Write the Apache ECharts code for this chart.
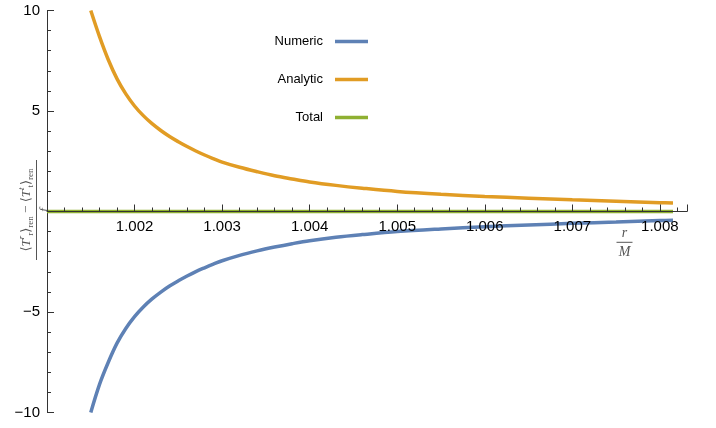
<!DOCTYPE html>
<html>
<head>
<meta charset="utf-8">
<script src="https://cdn.jsdelivr.net/npm/echarts@6/dist/echarts.min.js"></script>
<style>
html,body{margin:0;padding:0;background:#fff;}
#chart{width:716px;height:428px;}
</style>
</head>
<body>
<div id="chart"></div>
<script>
// r/M sample positions
var rValues = [1.0015, 1.0016, 1.0017, 1.0018, 1.0019, 1.0020, 1.0021, 1.0022, 1.0023, 1.0024,
  1.0025, 1.0026, 1.0027, 1.0028, 1.0029, 1.0030, 1.0032, 1.0034, 1.0036, 1.0038,
  1.0040, 1.0043, 1.0046, 1.0050, 1.0055, 1.0060, 1.0065, 1.0070, 1.0075, 1.0080, 1.00815];
var numeric = [-10.0, -8.6, -7.5, -6.55, -5.82, -5.23, -4.75, -4.35, -4.01, -3.71,
  -3.45, -3.21, -2.99, -2.8, -2.62, -2.45, -2.18, -1.96, -1.77, -1.6,
  -1.45, -1.28, -1.15, -1.0, -0.87, -0.76, -0.67, -0.59, -0.52, -0.45, -0.43];
var analytic = [10.0, 8.7, 7.55, 6.6, 5.85, 5.25, 4.77, 4.37, 4.03, 3.73,
  3.47, 3.23, 3.01, 2.81, 2.63, 2.46, 2.2, 1.98, 1.78, 1.62,
  1.47, 1.3, 1.16, 1.0, 0.86, 0.75, 0.66, 0.58, 0.51, 0.44, 0.42];
// Total is flat at zero over the whole plotted range
var rTotal = [1.001, 1.002, 1.003, 1.004, 1.005, 1.006, 1.007, 1.008, 1.00815];
var total = [0, 0, 0, 0, 0, 0, 0, 0, 0];
var seriesNames = ['Numeric', 'Analytic', 'Total'];
var yTickLabels = {'10': '10', '5': '5', '-5': '\u22125', '-10': '\u221210'};

function pairs(xs, ys) { return xs.map(function (r, i) { return [r, ys[i]]; }); }

var colors = ['#5E81B5', '#E19C24', '#8FB032'];
var chart = echarts.init(document.getElementById('chart'));

var serif = '"Liberation Serif", "DejaVu Serif", serif';
var grey = '#555';

function lineSeries(name, xs, ys, color, z) {
  return {
    name: name, type: 'line', data: pairs(xs, ys), showSymbol: false,
    smooth: 0.35, z: z,
    lineStyle: {color: color, width: 3.5}, itemStyle: {color: color}
  };
}

chart.setOption({
  animation: false,
  color: colors,
  grid: {left: 47, right: 29, top: 10.5, bottom: 15.5, containLabel: false},
  legend: {
    orient: 'vertical', right: 343, top: 28.5, align: 'right',
    icon: 'rect', itemWidth: 33, itemHeight: 3.5, itemGap: 22,
    data: seriesNames,
    textStyle: {fontFamily: 'Liberation Sans, Arial, sans-serif', fontSize: 13, color: '#000', lineHeight: 16, padding: [0, 7, 0, 0]}
  },
  xAxis: {
    type: 'value', min: 1.001, max: 1.00831, interval: 0.001, z: 3,
    position: 'bottom', offset: -201,
    axisLine: {onZero: false, lineStyle: {color: '#333', width: 1}},
    axisTick: {inside: true, length: 7, lineStyle: {color: '#333'}},
    minorTick: {show: true, splitNumber: 5, length: 4, lineStyle: {color: '#333'}},
    splitLine: {show: false},
    axisLabel: {
      showMinLabel: false, margin: 8,
      fontFamily: 'Liberation Sans, Arial, sans-serif', fontSize: 15, color: '#000',
      formatter: function (v) { return Math.abs(v - 1.001) < 1e-7 ? '' : v.toFixed(3); }
    }
  },
  yAxis: {
    type: 'value', min: -10, max: 10, interval: 5,
    axisLine: {show: true, lineStyle: {color: '#333', width: 1}},
    axisTick: {inside: true, length: 7, lineStyle: {color: '#333'}},
    minorTick: {show: true, splitNumber: 5, length: 4, lineStyle: {color: '#333'}},
    splitLine: {show: false},
    axisLabel: {
      margin: 7, fontFamily: 'Liberation Sans, Arial, sans-serif', fontSize: 15, color: '#000',
      formatter: function (v) { var k = String(Math.round(v)); return yTickLabels[k] || ''; }
    }
  },
  series: [
    lineSeries(seriesNames[0], rValues, numeric, colors[0], 2),
    lineSeries(seriesNames[1], rValues, analytic, colors[1], 2),
    lineSeries(seriesNames[2], rTotal, total, colors[2], 1)
  ],
  graphic: [
    {
      type: 'group', x: 36.5, y: 210, rotation: Math.PI / 2,
      children: [
        {
          type: 'text', x: 0, y: -10,
          style: {
            text: '{m|\u27E8}{i|T}{sp|r}{sb|r}{m|\u27E9}{sb|ren}{m| \u2212 \u27E8}{i|T}{sp|t}{sb|t}{m|\u27E9}{sb|ren}',
            align: 'center', verticalAlign: 'middle',
            rich: {
              m: {fontFamily: serif, fontSize: 13, fill: grey, lineHeight: 18, verticalAlign: 'middle'},
              i: {fontFamily: serif, fontStyle: 'italic', fontSize: 13, fill: grey, lineHeight: 18, verticalAlign: 'middle'},
              sp: {fontFamily: serif, fontStyle: 'italic', fontSize: 9, fill: grey, lineHeight: 9, verticalAlign: 'top'},
              sb: {fontFamily: serif, fontSize: 9, fill: grey, lineHeight: 9, verticalAlign: 'bottom'}
            }
          }
        },
        {type: 'line', shape: {x1: -50, y1: 0, x2: 50, y2: 0}, style: {stroke: grey, lineWidth: 1}},
        {
          type: 'text', x: 0, y: 8,
          style: {text: 'f', align: 'center', verticalAlign: 'middle', font: 'italic 13px ' + serif, fill: grey}
        }
      ]
    },
    {
      type: 'group', x: 624.5, y: 242.3,
      children: [
        {type: 'text', x: 0, y: -9, style: {text: 'r', align: 'center', verticalAlign: 'middle', font: 'italic 14px ' + serif, fill: grey}},
        {type: 'line', shape: {x1: -8, y1: 0, x2: 8, y2: 0}, style: {stroke: grey, lineWidth: 1}},
        {type: 'text', x: 0, y: 10, style: {text: 'M', align: 'center', verticalAlign: 'middle', font: 'italic 14px ' + serif, fill: grey}}
      ]
    }
  ]
});
</script>
</body>
</html>
